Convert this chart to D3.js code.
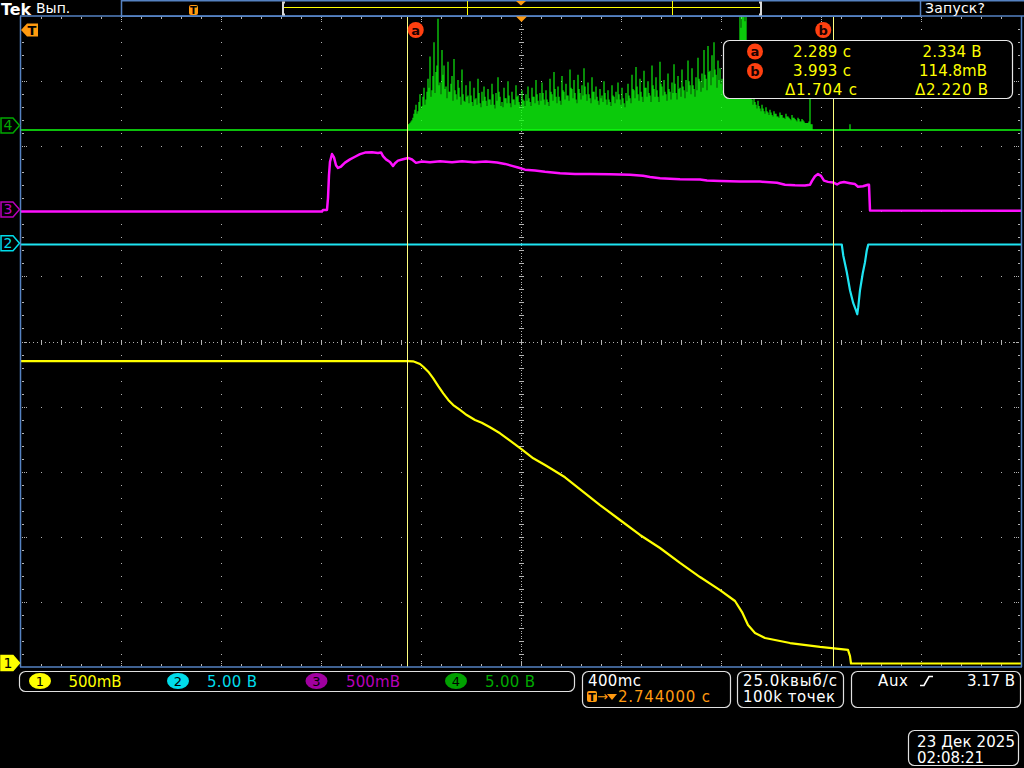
<!DOCTYPE html>
<html><head><meta charset="utf-8">
<script src="https://cdn.jsdelivr.net/npm/d3@7"></script>
<style>
body{margin:0;background:#000}
svg{display:block}
text{font-family:"DejaVu Sans",sans-serif}
</style>
</head><body><svg id="c" width="1024" height="768"></svg>
<script>
// ---------------- DATA ----------------
const timePerDiv = 0.4;          // 400 ms/div
const timeCenter = 2.744;        // horizontal delay (s)
const triggerTime = 0;
const cursorTimes = [2.289, 3.993];
const cursorNames = ["a", "b"];

// Channel settings (volts/div, ground position in divisions)
const channelIds   = [1, 2, 3, 4];
const channelVdiv  = [0.5, 5.0, 0.5, 5.0];
const channelPos   = [-4.954, 1.508, 2.028, 3.318];
const channelScaleLabels = ["500mВ", "5.00 В", "500mВ", "5.00 В"];

// CH1 (yellow)
const ch1Time  = [0.744, 2.292, 2.312, 2.320, 2.340, 2.353, 2.373, 2.393, 2.413, 2.433, 2.453, 2.473, 2.500, 2.527, 2.560, 2.587, 2.620, 2.660, 2.700, 2.747, 2.793, 2.840, 2.873, 2.920, 3.060, 3.140, 3.220, 3.300, 3.380, 3.460, 3.540, 3.600, 3.628, 3.652, 3.680, 3.720, 3.820, 3.940, 4.052, 4.060, 4.064, 4.744];
const ch1Volts = [2.327, 2.327, 2.325, 2.320, 2.304, 2.283, 2.245, 2.194, 2.135, 2.079, 2.028, 1.989, 1.951, 1.912, 1.874, 1.853, 1.818, 1.772, 1.715, 1.649, 1.580, 1.528, 1.490, 1.434, 1.221, 1.106, 0.991, 0.891, 0.776, 0.668, 0.568, 0.484, 0.399, 0.300, 0.238, 0.200, 0.161, 0.131, 0.108, 0.060, 0.004, 0.004];

// CH2 (cyan)
const ch2Time  = [0.744, 4.027, 4.033, 4.047, 4.060, 4.073, 4.084, 4.089, 4.093, 4.100, 4.111, 4.120, 4.127, 4.133, 4.744];
const ch2Volts = [-0.09, -0.09, -0.93, -2.20, -3.60, -4.60, -5.15, -5.45, -4.90, -3.60, -2.30, -1.45, -0.55, -0.09, -0.09];

// CH3 (magenta)
const ch3Time  = [0.744, 1.948, 1.952, 1.968, 1.972, 1.976, 1.980, 1.988, 1.996, 2.004, 2.012, 2.024, 2.040, 2.060, 2.080, 2.100, 2.120, 2.148, 2.172, 2.184, 2.192, 2.204, 2.220, 2.232, 2.240, 2.252, 2.272, 2.292, 2.308, 2.324, 2.348, 2.380, 2.420, 2.468, 2.508, 2.556, 2.604, 2.648, 2.680, 2.708, 2.732, 2.760, 2.800, 2.840, 2.900, 2.960, 3.020, 3.100, 3.180, 3.232, 3.260, 3.300, 3.380, 3.460, 3.488, 3.540, 3.620, 3.700, 3.768, 3.800, 3.840, 3.880, 3.900, 3.908, 3.920, 3.932, 3.944, 3.956, 3.972, 3.992, 4.008, 4.020, 4.036, 4.060, 4.080, 4.092, 4.112, 4.132, 4.136, 4.140, 4.744];
const ch3Volts = [-0.015, -0.015, -0.004, -0.004, 0.088, 0.265, 0.367, 0.426, 0.400, 0.340, 0.319, 0.330, 0.360, 0.385, 0.405, 0.425, 0.437, 0.440, 0.434, 0.438, 0.410, 0.385, 0.365, 0.334, 0.355, 0.375, 0.386, 0.396, 0.384, 0.358, 0.368, 0.362, 0.370, 0.362, 0.371, 0.363, 0.368, 0.360, 0.350, 0.335, 0.322, 0.306, 0.300, 0.290, 0.278, 0.272, 0.273, 0.270, 0.266, 0.259, 0.250, 0.240, 0.233, 0.230, 0.222, 0.218, 0.215, 0.214, 0.205, 0.190, 0.186, 0.184, 0.190, 0.220, 0.255, 0.272, 0.258, 0.222, 0.212, 0.208, 0.192, 0.205, 0.211, 0.202, 0.195, 0.175, 0.178, 0.190, 0.190, -0.008, -0.010];

// CH4 (green): sampled burst, start time, sample step, baseline, spike peaks and in-between fill samples
const ch4Base = -0.35;
const ch4Start = 2.292;
const ch4Step = 0.008;
const ch4Peaks = [
 0.1,0.2,0.4,0.9,1.6,1.1,2.4,1.5,2.9,2.0,
 3.6,5.3,2.7,6.4,4.1,8.2,3.3,5.8,4.6,3.0,
 4.9,2.6,3.8,5.1,2.4,3.5,2.2,4.3,1.9,3.1,
 2.3,3.4,1.8,2.9,2.1,3.6,1.7,2.6,3.0,1.9,
 2.8,2.0,3.2,1.6,2.5,3.7,2.2,1.8,2.9,2.1,
 3.4,1.7,2.6,2.0,3.1,2.3,1.6,2.7,1.9,2.4,
 3.0,1.8,2.9,2.2,3.5,1.9,2.5,3.3,2.0,2.7,
 1.8,3.6,2.4,4.1,2.2,3.0,1.9,3.8,2.6,3.2,
 2.3,4.3,2.8,3.5,2.0,3.9,2.5,3.1,4.4,2.4,
 3.3,2.1,3.7,2.6,3.0,1.9,2.8,2.3,3.4,2.0,
 2.7,1.8,3.1,2.2,2.6,3.3,2.0,2.9,1.7,2.5,
 3.2,2.1,3.9,2.7,4.5,2.4,3.6,2.2,4.2,2.9,
 3.4,2.3,4.6,2.8,3.7,2.2,4.9,3.0,3.5,2.4,
 4.0,2.6,3.3,4.7,2.5,3.8,2.9,4.3,2.7,3.5,
 5.0,3.1,4.4,2.8,3.7,5.2,3.4,4.0,5.8,3.6,
 6.1,4.2,5.4,6.4,3.9,5.0,4.4,3.6,4.1,3.2,
 2.8,3.5,4.6,3.1,4.0,5.5,9.9,12.0,10.5,11.0,
 4.6,2.8,2.0,2.4,1.6,1.9,1.3,1.6,1.1,1.4,
 1.0,1.2,0.8,1.1,0.9,0.7,1.0,0.8,0.6,0.9,
 0.7,0.5,0.8,0.6,0.4,0.6,0.3,0.5,0.3,0.2,
 0.2,2.1,0.1];
const ch4Fill = [
 0.1,0.3,0.6,1.2,0.9,1.8,1.3,2.2,1.6,2.6,
 2.9,2.2,3.8,2.5,4.6,3.1,2.4,3.9,2.8,2.1,
 2.6,3.2,1.9,2.7,2.0,2.9,1.6,2.4,1.8,2.2,
 1.7,2.3,1.5,2.0,1.6,2.5,1.4,1.9,2.2,1.5,
 2.0,1.6,2.4,1.3,1.9,2.6,1.5,1.4,2.1,1.7,
 2.3,1.4,2.0,1.6,2.2,1.8,1.3,2.0,1.5,1.9,
 2.1,1.5,2.2,1.7,2.4,1.6,1.9,2.5,1.6,2.0,
 1.5,2.6,1.9,2.8,1.7,2.2,1.6,2.7,2.0,2.3,
 1.9,2.9,2.1,2.5,1.7,2.8,2.0,2.3,3.0,1.9,
 2.4,1.7,2.6,2.0,2.2,1.6,2.1,1.8,2.5,1.6,
 2.0,1.5,2.3,1.7,2.0,2.4,1.6,2.1,1.4,1.9,
 2.3,1.7,2.8,2.1,3.0,1.9,2.6,1.8,2.9,2.2,
 2.5,1.8,3.1,2.2,2.7,1.8,3.2,2.3,2.6,1.9,
 2.8,2.0,2.5,3.2,2.0,2.8,2.2,3.0,2.1,2.6,
 3.4,2.4,3.1,2.2,2.7,3.6,2.6,2.9,3.9,2.7,
 4.1,3.1,3.7,4.3,2.9,3.5,3.2,2.7,3.0,2.4,
 2.1,2.6,3.3,2.4,3.0,4.2,7.5,9.0,8.0,6.5,
 3.3,2.1,1.6,1.8,1.3,1.5,1.1,1.3,0.9,1.1,
 0.8,1.0,0.7,0.9,0.7,0.6,0.8,0.6,0.5,0.7,
 0.6,0.4,0.6,0.5,0.3,0.5,0.3,0.4,0.2,0.2,
 0.3,0.1];
const ch4ExtraTimes = [4.060];
const ch4ExtraPeaks = [0.1];

// Cursor readout
const readA = ["2.289 с", "2.334 В"];
const readB = ["3.993 с", "114.8mВ"];
const readDelta = ["Δ1.704 с", "Δ2.220 В"];

// Status texts
const timebaseText = "400mс";
const delayText = "2.744000 с";
const sampleTexts = ["25.0kвыб/с", "100k точек"];
const triggerTexts = ["Aux", "3.17 В"];
const dateTexts = ["23 Дек 2025", "02:08:21"];

// ---------------- STYLE ----------------
const traceColors  = ["#ffff00", "#1ee4f2", "#ff10ff", "#10ff10"];
const labelColors  = ["#ffff00", "#00dcea", "#b800b8", "#00a800"];
const ovalColors   = ["#ffff00", "#00dcea", "#a000a0", "#00a000"];
const frameColor = "#5582c2";
const dotColor = "#b4b4b4";
const orange = "#ff9a10";
const cursorColor = "#ffff80";
const cursorLabelColor = "#ff4010";

const svg = d3.select("#c");
svg.append("rect").attr("width",1024).attr("height",768).attr("fill","#000");

const P = {left:21, right:1021, top:16, bottom:667};
const x = d3.scaleLinear()
  .domain([timeCenter - 5*timePerDiv, timeCenter + 5*timePerDiv])
  .range([P.left, P.right]);
const yDiv = d3.scaleLinear().domain([-5, 5]).range([P.bottom, P.top]);
const chanY = i => v => yDiv(channelPos[i] + v / channelVdiv[i]);

// ---------------- GRID ----------------
const grid = svg.append("g").attr("fill", dotColor);
const dot = (gx, gy, w=1, h=1) => grid.append("rect")
  .attr("x", Math.round(gx)).attr("y", Math.round(gy)).attr("width", w).attr("height", h);
const divX = d3.range(0, 11).map(i => x(x.domain()[0] + i*timePerDiv));
const divY = d3.range(0, 11).map(j => yDiv(-5 + j));
const subH = (P.bottom - P.top) / 50;
for (let i = 1; i < 10; i++) {
  if (i === 5) continue;
  for (let k = 1; k < 50; k++) dot(divX[i], P.top + k*subH);
}
for (let j = 1; j < 10; j++) {
  if (j === 5) continue;
  for (let k = 1; k < 50; k++) dot(P.left + k*20, divY[j]);
}
const cx = divX[5], cy = divY[5];
for (let k = 1; k < 250; k++) dot(cx, P.top + k*subH/5);
for (let k = 1; k < 50; k++) dot(cx - 2, P.top + k*subH, 5, 1);
for (let k = 1; k < 250; k++) dot(P.left + k*4, cy);
for (let k = 1; k < 50; k++) dot(P.left + k*20, cy - 2, 1, 5);
for (let k = 1; k < 50; k++) {
  const tx = P.left + k*20;
  if (k % 5 === 0) { [17,19,21].forEach(yy => dot(tx, yy)); [661,663,665].forEach(yy => dot(tx, yy)); }
  else { dot(tx, 17, 1, 2); dot(tx, 664, 1, 2); }
  const ty = P.top + k*subH;
  if (k % 5 === 0) { [22,24,26].forEach(xx => dot(xx, ty)); [1014,1016,1018].forEach(xx => dot(xx, ty)); }
  else { dot(22, ty, 2, 1); dot(1018, ty, 2, 1); }
}

// ---------------- TRACES ----------------
svg.append("clipPath").attr("id","plotClip").append("rect")
  .attr("x", P.left).attr("y", P.top).attr("width", P.right-P.left).attr("height", P.bottom-P.top);
const traces = svg.append("g").attr("clip-path","url(#plotClip)");

// CH4 green
const y4 = chanY(3);
traces.append("line").attr("x1", P.left).attr("x2", P.right)
  .attr("y1", y4(ch4Base)).attr("y2", y4(ch4Base))
  .attr("stroke", traceColors[3]).attr("stroke-width", 1.5);
const ch4Samples = ch4Peaks.map((v, i) => ({t: ch4Start + i*ch4Step, v}))
  .concat(ch4Fill.map((v, i) => ({t: ch4Start + ch4Step/2 + i*ch4Step, v})))
  .concat(ch4ExtraTimes.map((t, i) => ({t, v: ch4ExtraPeaks[i]})));
traces.append("g").selectAll("line").data(ch4Samples).join("line")
  .attr("x1", d => x(d.t)).attr("x2", d => x(d.t))
  .attr("y1", y4(ch4Base)).attr("y2", d => y4(d.v))
  .attr("stroke", traceColors[3]).attr("stroke-width", 1.1);

function drawTrace(times, volts, i, width) {
  const yy = chanY(i);
  const pts = times.map((t, k) => [x(t), yy(volts[k])]);
  traces.append("path").attr("d", d3.line()(pts))
    .attr("fill","none").attr("stroke", traceColors[i]).attr("stroke-width", width)
    .attr("stroke-linejoin","round");
}
drawTrace(ch3Time, ch3Volts, 2, 2.5);
drawTrace(ch2Time, ch2Volts, 1, 2.2);
drawTrace(ch1Time, ch1Volts, 0, 2.2);

// ---------------- CURSORS ----------------
const cur = svg.append("g");
cursorTimes.forEach((t, i) => {
  cur.append("line").attr("x1", Math.round(x(t))+0.5).attr("x2", Math.round(x(t))+0.5)
    .attr("y1", P.top).attr("y2", P.bottom).attr("stroke", cursorColor).attr("stroke-width", 1);
});
const cursorBadge = (g, cxp, cyp, name) => {
  g.append("circle").attr("cx", cxp).attr("cy", cyp).attr("r", 8).attr("fill", cursorLabelColor);
  g.append("text").attr("x", cxp).attr("y", cyp + 4.5).attr("text-anchor","middle")
    .attr("font-size", 13).attr("font-weight","bold").attr("fill","#1a0000").text(name);
};
cursorBadge(cur, x(cursorTimes[0]) + 8.5, 30, cursorNames[0]);
cursorBadge(cur, x(cursorTimes[1]) - 10, 30, cursorNames[1]);

const rb = svg.append("g");
rb.append("rect").attr("x", 723.5).attr("y", 40.5).attr("width", 289).attr("height", 58).attr("rx", 6)
  .attr("fill","#000").attr("stroke","#e8e8e8").attr("stroke-width",1.2);
cursorBadge(rb, 755, 51.5, "a");
cursorBadge(rb, 755, 71, "b");
const ytext = (txt, tx, ty, w, col, size=15) => svg.append("text").attr("x", tx).attr("y", ty)
  .attr("font-size", size).attr("fill", col).attr("textLength", w).attr("lengthAdjust","spacing").text(txt);
ytext(readA[0], 793, 56.5, 58, "#ffff00");
ytext(readA[1], 922.5, 56.5, 59, "#ffff00");
ytext(readB[0], 793, 75.5, 58, "#ffff00");
ytext(readB[1], 919, 75.5, 68, "#ffff00");
ytext(readDelta[0], 785, 95, 72, "#ffff00");
ytext(readDelta[1], 915, 95, 73, "#ffff00");

// ---------------- FRAME ----------------
const fr = svg.append("g").attr("stroke", frameColor).attr("stroke-width", 1.5).attr("fill","none");
fr.append("line").attr("x1", 20).attr("x2", 1024).attr("y1", 16).attr("y2", 16);
fr.append("line").attr("x1", 20.5).attr("x2", 20.5).attr("y1", 16).attr("y2", 667);
fr.append("line").attr("x1", 20).attr("x2", 1022).attr("y1", 667).attr("y2", 667);
fr.append("line").attr("x1", 1021.5).attr("x2", 1021.5).attr("y1", 16).attr("y2", 667);
fr.append("rect").attr("x", 121.5).attr("y", 0.75).attr("width", 799).attr("height", 15.5);
fr.append("line").attr("x1", 920.5).attr("x2", 1024).attr("y1", 0.75).attr("y2", 0.75);

// ---------------- TOP BAR ----------------
svg.append("text").attr("x", 1).attr("y", 14.5).attr("font-family","DejaVu Serif").attr("font-weight","bold")
  .attr("font-size", 15).attr("fill","#fff").attr("textLength", 30).attr("lengthAdjust","spacingAndGlyphs").text("Tek");
svg.append("text").attr("x", 36).attr("y", 13).attr("font-size", 14).attr("fill","#fff").text("Вып.");
svg.append("text").attr("x", 925).attr("y", 13).attr("font-size", 14).attr("fill","#fff")
  .attr("textLength", 60).text("Запуск?");
const rec = d3.scaleLinear().domain(x.domain()).range([282, 762]);
svg.append("path").attr("d", `M${rec.range()[0]+3},2.5 H${rec.range()[0]+1} V14.5 H${rec.range()[0]+3}`)
  .attr("stroke","#d8d8d8").attr("stroke-width",2).attr("fill","none");
svg.append("path").attr("d", `M${rec.range()[1]-3},2.5 H${rec.range()[1]-1} V14.5 H${rec.range()[1]-3}`)
  .attr("stroke","#d8d8d8").attr("stroke-width",2).attr("fill","none");
svg.append("line").attr("x1", rec.range()[0]+2).attr("x2", rec.range()[1]-2).attr("y1", 7.5).attr("y2", 7.5)
  .attr("stroke","#ffff00").attr("stroke-width",1);
cursorTimes.forEach(t => svg.append("line").attr("x1", Math.round(rec(t))+0.5).attr("x2", Math.round(rec(t))+0.5)
  .attr("y1", 1).attr("y2", 15).attr("stroke","#ffff00").attr("stroke-width",1));
const tIcon = (g, ix, iy, w, h, fs) => {
  g.append("rect").attr("x", ix).attr("y", iy).attr("width", w).attr("height", h).attr("rx", 2).attr("fill", orange);
  g.append("text").attr("x", ix + w/2).attr("y", iy + h - 1.5).attr("text-anchor","middle")
    .attr("font-size", fs).attr("font-weight","bold").attr("fill","#000").text("T");
};
tIcon(svg, Math.round(rec(triggerTime)) - 4, 5, 9, 10, 10);
svg.append("path").attr("d", `M516,1 L526,1 L521,5.5 Z`).attr("fill", orange);
svg.append("path").attr("d", `M${cx-5},16.5 L${cx+6},16.5 L${cx+0.5},22 Z`).attr("fill", orange);
svg.append("path").attr("d", "M21,30 L27,23.5 L38,23.5 L38,36.5 L27,36.5 Z").attr("fill", orange);
svg.append("text").attr("x", 32).attr("y", 35).attr("text-anchor","middle").attr("font-size", 13)
  .attr("font-weight","bold").attr("fill","#000").text("T");

// ---------------- CHANNEL MARKERS ----------------
channelIds.forEach((id, i) => {
  const ty = Math.min(yDiv(channelPos[i]), 663);
  const sel = i === 0;
  svg.append("path").attr("d", `M1,${ty-7.5} L13,${ty-7.5} L19.5,${ty} L13,${ty+7.5} L1,${ty+7.5} Z`)
    .attr("fill", sel ? traceColors[0] : "#000").attr("stroke", sel ? traceColors[0] : labelColors[i])
    .attr("stroke-width", 1.5);
  svg.append("text").attr("x", 8).attr("y", ty + 5).attr("text-anchor","middle").attr("font-size", 14)
    .attr("fill", sel ? "#000" : (i===2 ? "#c000c0" : labelColors[i])).text(id);
});

// ---------------- BOTTOM STATUS ----------------
const box = (bx, by, w, h) => svg.append("rect").attr("x", bx).attr("y", by).attr("width", w).attr("height", h)
  .attr("rx", 6).attr("fill","none").attr("stroke","#e0e0e0").attr("stroke-width", 1.2);
box(19.5, 671.5, 555, 20);
box(582.5, 671.5, 148, 36);
box(737.5, 671.5, 106, 36);
box(851.5, 671.5, 169, 36);
box(908.5, 730.5, 110, 35);

const ovalX = [40, 178, 316.5, 456];
const labelX = [68.5, 207, 346, 485];
const labelW = [53, 50, 54, 50];
channelIds.forEach((id, i) => {
  svg.append("ellipse").attr("cx", ovalX[i]).attr("cy", 681).attr("rx", 11).attr("ry", 8).attr("fill", ovalColors[i]);
  svg.append("text").attr("x", ovalX[i]).attr("y", 686).attr("text-anchor","middle").attr("font-size", 13)
    .attr("fill","#000").text(id);
  ytext(channelScaleLabels[i], labelX[i], 687, labelW[i], labelColors[i]);
});

ytext(timebaseText, 588, 686, 53, "#ffffff");
tIcon(svg, 587, 691, 10, 11, 11);
svg.append("text").attr("x", 597).attr("y", 701).attr("font-size", 13).attr("fill", orange).text("→");
svg.append("path").attr("d", "M607,694 L617,694 L612,700 Z").attr("fill", orange);
ytext(delayText, 618, 702, 92, orange);
ytext(sampleTexts[0], 743, 686, 94, "#ffffff");
ytext(sampleTexts[1], 743, 702, 92, "#ffffff");
ytext(triggerTexts[0], 878, 686, 30, "#ffffff");
svg.append("path").attr("d", "M920,685.5 H924 L929,676.5 H933").attr("stroke","#fff").attr("stroke-width",1.6).attr("fill","none");
ytext(triggerTexts[1], 967, 686, 48, "#ffffff");
ytext(dateTexts[0], 917, 747, 98, "#ffffff");
ytext(dateTexts[1], 917, 763, 67, "#ffffff");
</script>
</body></html>
